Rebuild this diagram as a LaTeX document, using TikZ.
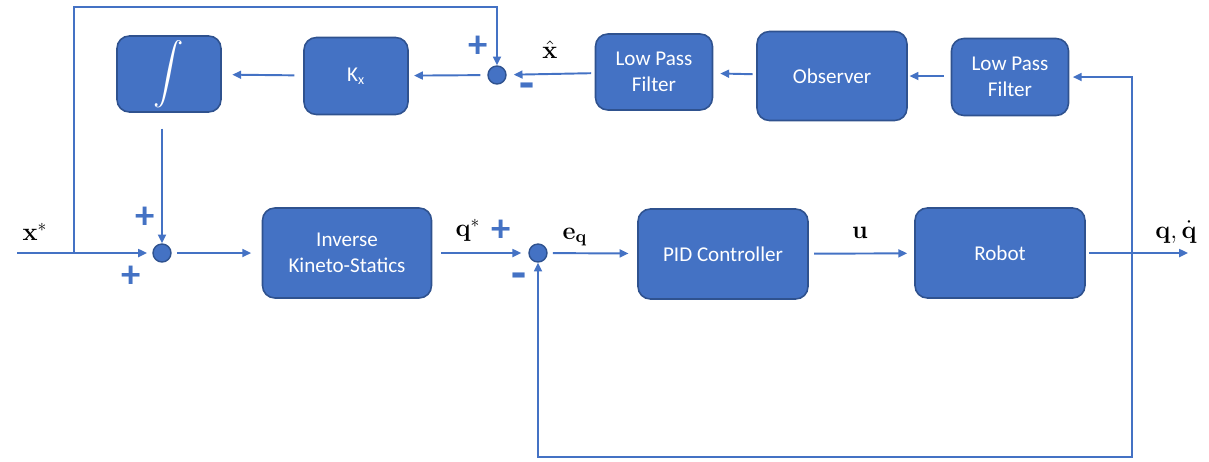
\documentclass[tikz,border=0pt]{standalone}
\usepackage{amsmath}
\usepackage[no-math]{fontspec}
\newfontfamily\calib{Carlito}
\usetikzlibrary{arrows.meta}
\definecolor{blockfill}{HTML}{4472C4}
\definecolor{blockedge}{HTML}{2F528F}
\definecolor{linecol}{HTML}{4472C4}

\begin{document}
\begin{tikzpicture}[x=0.02cm,y=-0.02cm,
	block/.style={draw=blockedge,fill=blockfill,line width=0.9pt,rounded corners=7pt,text=white,
		font=\calib\fontsize{12}{14.5}\selectfont,align=center,inner sep=0pt},
	sumpt/.style={circle,draw=blockedge,fill=blockfill,line width=0.8pt,minimum size=0.36cm,inner sep=0pt},
	link/.style={draw=linecol,line width=1.1pt},
	arr/.style={link,-{Triangle[length=5pt,width=4.5pt]}},
	sign/.style={text=linecol,font=\calib\bfseries\fontsize{22}{22}\selectfont,inner sep=0pt},
	minus/.style={sign,font=\calib\bfseries\fontsize{28}{28}\selectfont},
	lbl/.style={font=\fontsize{14.5}{16}\selectfont,inner sep=0pt}]
	\useasboundingbox (0,0) rectangle (1209,461);

	\node[block,minimum width=2.08cm,minimum height=1.52cm] (integ) at (169,74) {\fontsize{17}{20}\selectfont$\displaystyle\int$};
	\node[block,minimum width=2.08cm,minimum height=1.54cm] (kx) at (356,76) {K\textsubscript{x}};
	\node[sumpt] (sumtop) at (497,75) {};
	\node[block,minimum width=2.34cm,minimum height=1.52cm] (lpfA) at (654,72) {Low Pass\\Filter};
	\node[block,minimum width=3.0cm,minimum height=1.78cm] (obs) at (832,76) {Observer};
	\node[block,minimum width=2.34cm,minimum height=1.54cm] (lpfB) at (1010,77) {Low Pass\\Filter};

	\node[sumpt] (sumA) at (162,253) {};
	\node[block,minimum width=3.38cm,minimum height=1.8cm] (iks) at (347,253) {Inverse\\Kineto-Statics};
	\node[sumpt] (sumB) at (538,253) {};
	\node[block,minimum width=3.4cm,minimum height=1.8cm] (pid) at (723,254) {PID Controller};
	\node[block,minimum width=3.4cm,minimum height=1.8cm] (robot) at (1000,253) {Robot};

	\coordinate (in) at (17,253);
	\coordinate (br) at (74,253);
	\coordinate (topc) at (74,7);
	\coordinate (tap) at (1132,253);
	\coordinate (low) at (1132,457);
	\coordinate (out) at (1188,253);

	\draw[arr,shorten >=3pt] (in) -- (sumA);
	\draw[arr] (br) -- (topc) -| (sumtop);
	\draw[arr,shorten <=4pt,shorten >=3pt] (sumtop) -- (kx);
	\draw[arr,shorten <=5pt,shorten >=6pt] (kx) -- (integ);
	\draw[arr,shorten <=9pt] (integ.south -| sumA) -- (sumA);
	\draw[arr,shorten <=2pt,shorten >=4pt] (lpfA) -- (sumtop);
	\draw[arr,shorten <=2pt,shorten >=4pt] (obs) -- (lpfA);
	\draw[arr,shorten <=4pt,shorten >=1pt] (lpfB.west |- obs) -- (obs);
	\draw[arr,shorten >=2pt] (tap) |- (lpfB.east);
	\draw[arr,shorten <=3pt,shorten >=6pt] (sumA) -- (iks);
	\draw[arr,shorten <=5pt,shorten >=4pt] (iks) -- (sumB);
	\draw[arr,shorten <=3pt,shorten >=5pt] (sumB) -- (pid);
	\draw[arr,shorten <=3pt,shorten >=4pt] (pid) -- (robot);
	\draw[arr,shorten <=2pt] (robot) -- (out);
	\draw[arr] (tap) -- (low) -| (sumB);

	\node[lbl] (xstar) at (35,232) {$\mathbf{x}^*$};
	\node[sign] (plusA) at (145,218) {+};
	\node[sign] (plusB) at (131,277) {+};
	\node[lbl] (qstar) at (468,230) {$\mathbf{q}^*$};
	\node[sign] (plusC) at (501,231) {+};
	\node[minus] (minusC) at (519,281) {-};
	\node[lbl] (err) at (575,237) {$\mathbf{e}_{\mathbf{q}}$};
	\node[lbl] (ctrl) at (860,233) {$\mathbf{u}$};
	\node[lbl] (state) at (1176,232) {$\mathbf{q},\dot{\mathbf{q}}$};
	\node[sign] (plusD) at (478,47) {+};
	\node[minus] (minusD) at (527,91) {-};
	\node[lbl] (xhat) at (550,50) {$\hat{\mathbf{x}}$};
\end{tikzpicture}
\end{document}
